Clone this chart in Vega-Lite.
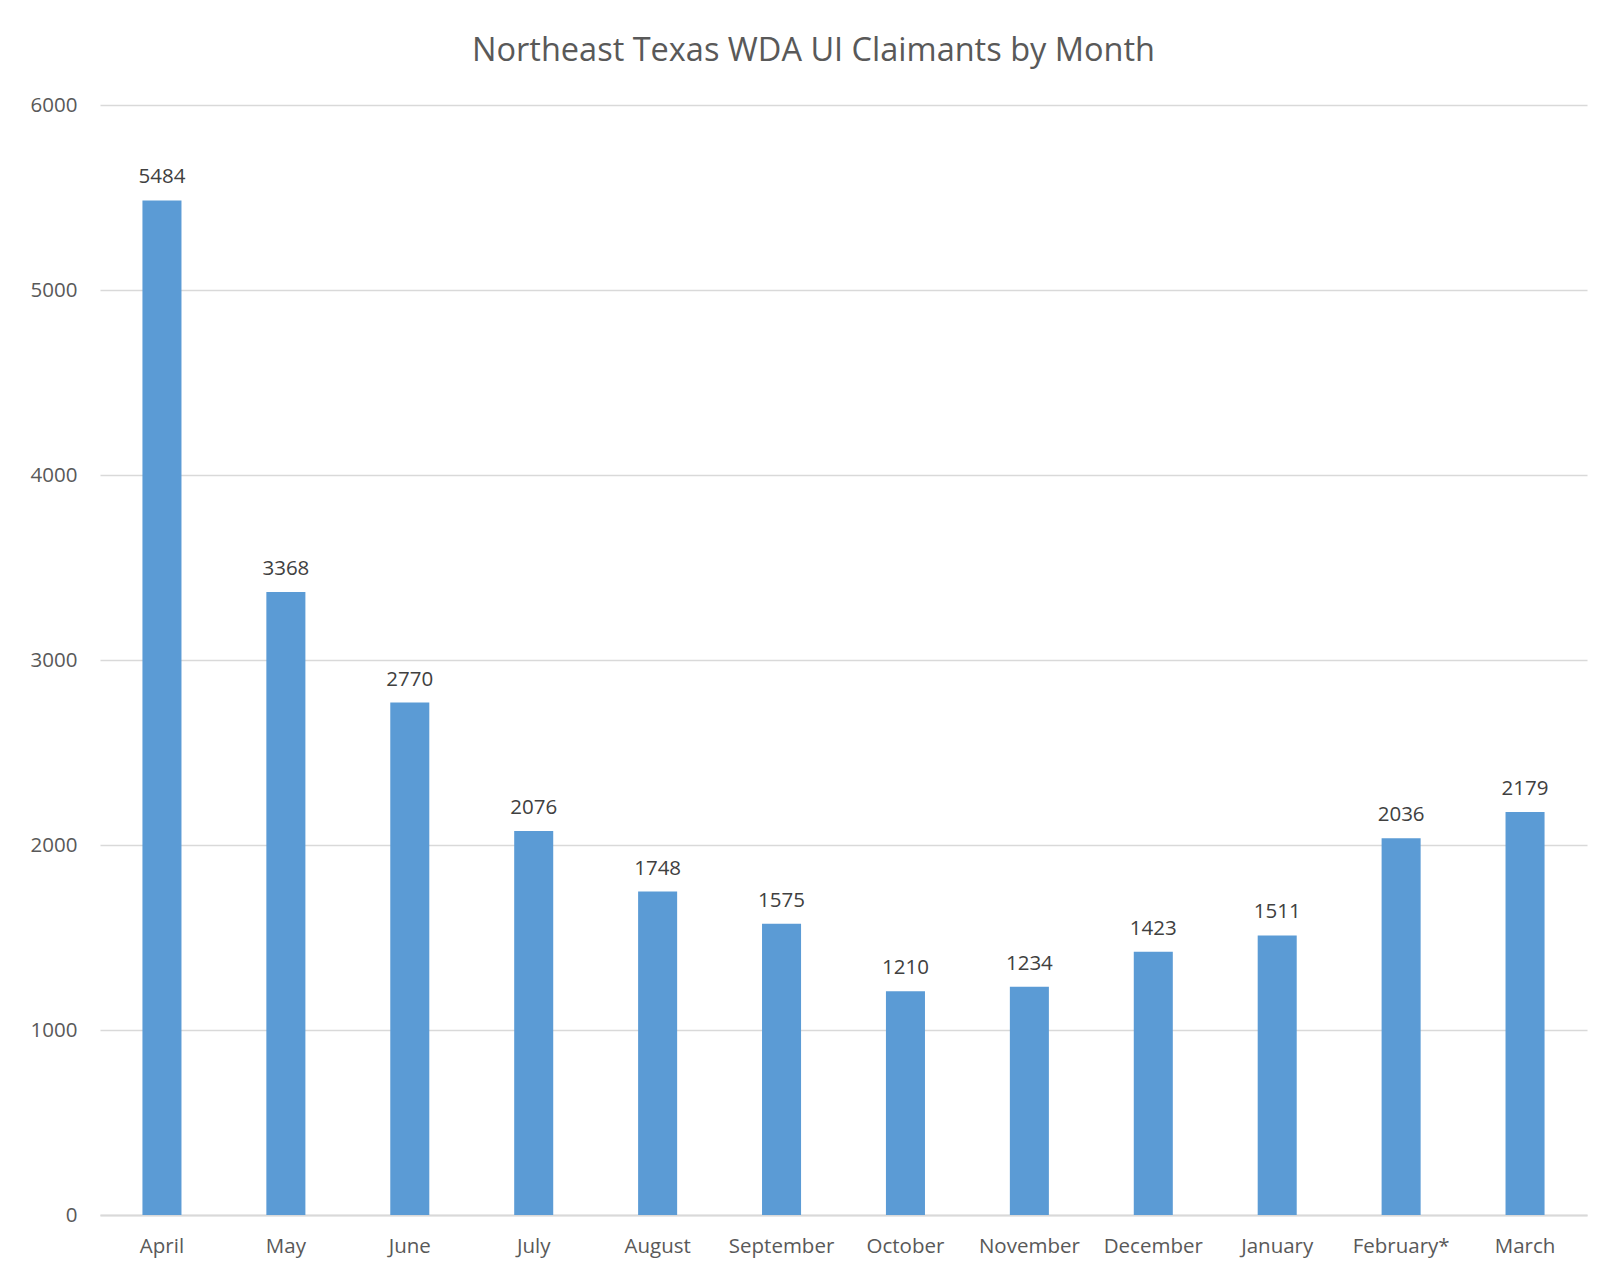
{
  "$schema": "https://vega.github.io/schema/vega-lite/v6.json",
  "width": 1487,
  "height": 1110,
  "padding": {"left": 30, "top": 34, "right": 31, "bottom": 10},
  "background": "white",
  "title": {
    "text": "Northeast Texas WDA UI Claimants by Month",
    "font": "Open Sans",
    "fontSize": 32.5,
    "fontWeight": "normal",
    "color": "#595959",
    "anchor": "middle",
    "dx": -30,
    "offset": 28
  },
  "data": {
    "values": [
      {"month": "April", "claimants": 5484},
      {"month": "May", "claimants": 3368},
      {"month": "June", "claimants": 2770},
      {"month": "July", "claimants": 2076},
      {"month": "August", "claimants": 1748},
      {"month": "September", "claimants": 1575},
      {"month": "October", "claimants": 1210},
      {"month": "November", "claimants": 1234},
      {"month": "December", "claimants": 1423},
      {"month": "January", "claimants": 1511},
      {"month": "February*", "claimants": 2036},
      {"month": "March", "claimants": 2179}
    ]
  },
  "config": {
    "view": {"stroke": null},
    "font": "Open Sans"
  },
  "encoding": {
    "x": {
      "field": "month",
      "type": "nominal",
      "sort": null,
      "scale": {"paddingInner": 0.685, "paddingOuter": 0.3425},
      "axis": {
        "title": null,
        "labelAngle": 0,
        "labelFont": "Open Sans",
        "labelFontSize": 20.5,
        "labelColor": "#595959",
        "labelPadding": 21,
        "ticks": false,
        "domainColor": "#D9D9D9",
        "domainWidth": 2,
        "grid": false
      }
    },
    "y": {
      "field": "claimants",
      "type": "quantitative",
      "scale": {"domain": [0, 6000], "nice": false},
      "axis": {
        "title": null,
        "format": "d",
        "values": [0, 1000, 2000, 3000, 4000, 5000, 6000],
        "labelFont": "Open Sans",
        "labelFontSize": 20.5,
        "labelColor": "#595959",
        "labelPadding": 23,
        "ticks": false,
        "domain": false,
        "gridColor": "#D9D9D9",
        "gridWidth": 1.5
      }
    }
  },
  "layer": [
    {
      "mark": {"type": "bar", "color": "#5B9BD5"}
    },
    {
      "mark": {
        "type": "text",
        "baseline": "alphabetic",
        "dy": -17,
        "fontSize": 20.5,
        "color": "#404040",
        "font": "Open Sans"
      },
      "encoding": {
        "text": {"field": "claimants", "type": "quantitative", "format": "d"}
      }
    }
  ]
}
